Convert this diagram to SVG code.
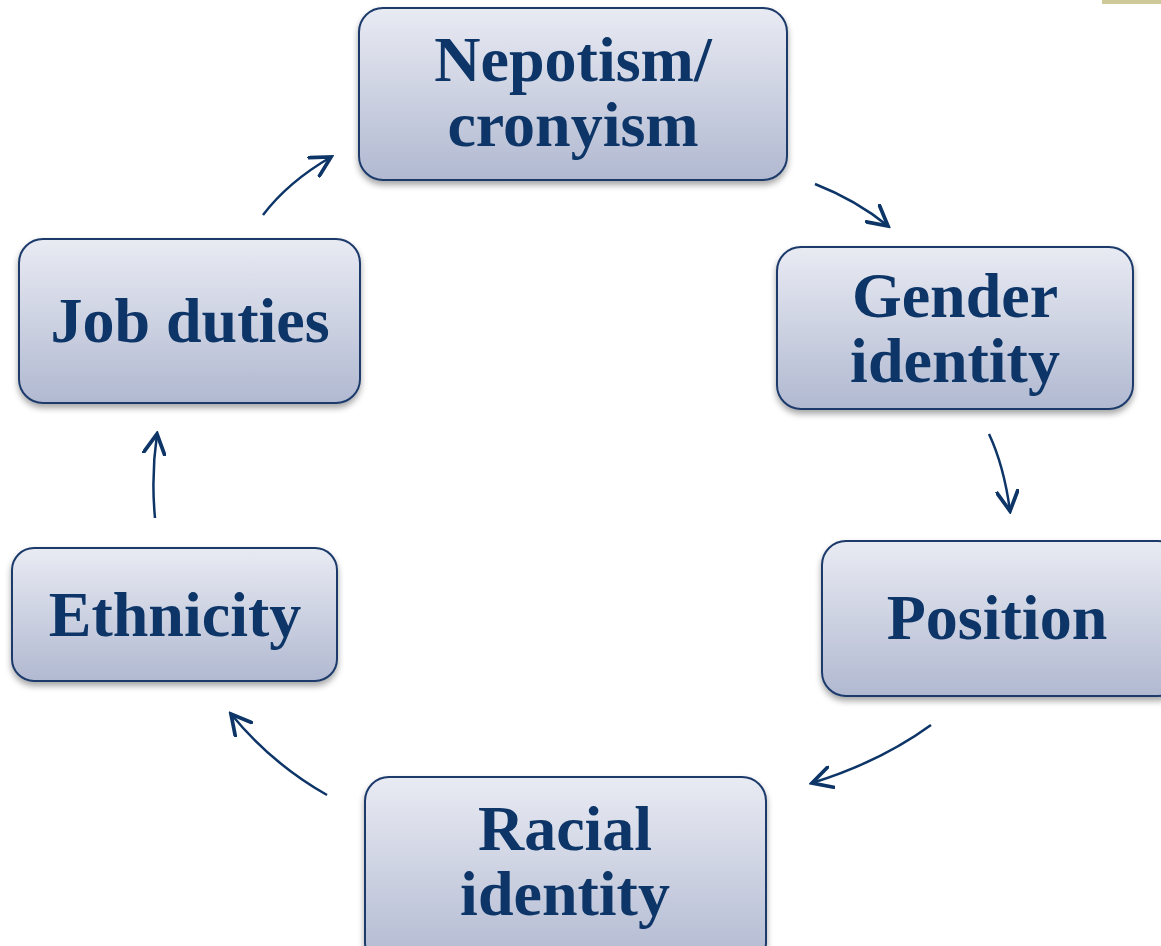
<svg xmlns="http://www.w3.org/2000/svg" width="1161" height="946" viewBox="0 0 1161 946">
<style>
.box{fill:url(#g);stroke:#1c3a6b;stroke-width:2;filter:url(#sh)}
.t{font-family:"Liberation Serif","Times New Roman",serif;font-weight:bold;font-size:64px;fill:#0d3567;text-anchor:middle}
.c{fill:none;stroke:#0d3567;stroke-width:2.5;marker-end:url(#ah)}
</style>
<defs>
<linearGradient id="g" x1="0" y1="0" x2="0" y2="1">
<stop offset="0" stop-color="#e9ebf3"/>
<stop offset="1" stop-color="#b1b9d1"/>
</linearGradient>
<filter id="sh" x="-10%" y="-10%" width="120%" height="130%">
<feDropShadow dx="0" dy="4" stdDeviation="3" flood-color="#000" flood-opacity="0.35"/>
</filter>
<marker id="ah" markerUnits="userSpaceOnUse" markerWidth="24" markerHeight="24" refX="14" refY="8" orient="auto" viewBox="0 0 16 16">
<path d="M1,1 L14,8 L1,15" fill="none" stroke="#0d3567" stroke-width="2.5" stroke-linecap="round" stroke-linejoin="miter"/>
</marker>
</defs>
<rect x="1102" y="0" width="59" height="4" fill="#cdc999"/>
<g id="connectors">
<path class="c" d="M263,215 Q288,182 331,157"/>
<path class="c" d="M815,184 Q856,200 888,226"/>
<path class="c" d="M989,434 Q1004,466 1010,511"/>
<path class="c" d="M931,725 Q880,762 812,783"/>
<path class="c" d="M327,795 Q272,764 231,714"/>
<path class="c" d="M155,518 Q151,476 157,434"/>
</g>
<g id="n1"><rect class="box" x="359" y="8" width="428" height="172" rx="24"/>
<text class="t" x="573" y="81">Nepotism/</text><text class="t" x="573" y="146">cronyism</text></g>
<g id="n2"><rect class="box" x="777" y="247" width="356" height="162" rx="24"/>
<text class="t" x="955" y="317">Gender</text><text class="t" x="955" y="382">identity</text></g>
<g id="n3"><rect class="box" x="822" y="541" width="360" height="155" rx="24"/>
<text class="t" x="997" y="639">Position</text></g>
<g id="n4"><rect class="box" x="365" y="777" width="401" height="190" rx="24"/>
<text class="t" x="565" y="850">Racial</text><text class="t" x="565" y="915">identity</text></g>
<g id="n5"><rect class="box" x="12" y="548" width="325" height="133" rx="22"/>
<text class="t" x="175" y="636">Ethnicity</text></g>
<g id="n6"><rect class="box" x="19" y="239" width="341" height="164" rx="24"/>
<text class="t" x="190" y="342">Job duties</text></g>
</svg>
